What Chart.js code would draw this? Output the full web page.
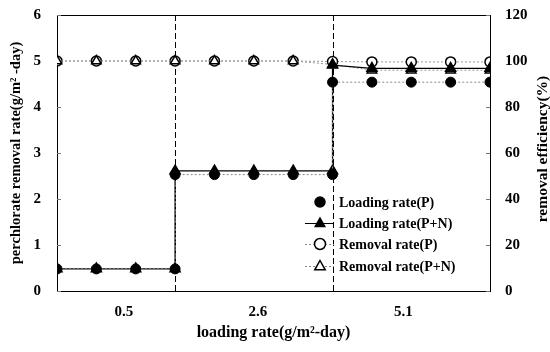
<!DOCTYPE html>
<html>
<head>
<meta charset="utf-8">
<script src="https://cdn.jsdelivr.net/npm/chart.js@4/dist/chart.umd.min.js"></script>
<style>
    html, body { margin: 0; padding: 0; background: #fff; }
    #wrap { width: 550px; height: 352px; position: relative; }
</style>
</head>
<body>
<div id="wrap"><canvas id="grafico"></canvas></div>
<script>
// Dados
const grupos = ['0.5', '2.6', '5.1'];
const posGrupos = [1.7, 5.1, 8.8];
const xLoading = [0, 1, 2, 3, 3, 4, 5, 6, 7, 7, 8, 9, 10, 11];
const loadingP = [0.48, 0.48, 0.48, 0.48, 2.53, 2.53, 2.53, 2.53, 2.53, 4.54, 4.54, 4.54, 4.54, 4.54];
const loadingPN = [0.48, 0.48, 0.48, 0.48, 2.61, 2.61, 2.61, 2.61, 2.61, 4.91, 4.84, 4.84, 4.84, 4.84];
const xRemoval = [0, 1, 2, 3, 4, 5, 6, 7, 8, 9, 10, 11];
const removalP = [100, 100, 100, 100, 100, 100, 100, 99.8, 99.6, 99.6, 99.6, 99.6];
const removalPN = [100, 100, 100, 100, 100, 100, 100, 98.5, 96, 96, 96, 96];
const mudancas = [3, 7];

const legendaItens = ['Loading rate(P)', 'Loading rate(P+N)', 'Removal rate(P)', 'Removal rate(P+N)'];
const fonte = '"Liberation Serif", "Times New Roman", serif';

function pares(xs, ys) {
    return xs.map((x, i) => ({ x: x, y: ys[i] }));
}

// desenha um marcador simples
function marcador(ctx, tipo, x, y, r, cheio) {
    ctx.beginPath();
    if (tipo === 'circle') {
        ctx.arc(x, y, r, 0, Math.PI * 2);
    } else {
        ctx.moveTo(x, y - r);
        ctx.lineTo(x + r * 0.95, y + r * 0.7);
        ctx.lineTo(x - r * 0.95, y + r * 0.7);
        ctx.closePath();
    }
    ctx.fillStyle = cheio ? '#000' : '#fff';
    ctx.fill();
    ctx.lineWidth = 1.5;
    ctx.strokeStyle = '#000';
    ctx.stroke();
}

// sem folga extra para os rótulos nas pontas
function semFolga(scale, largura, altura) {
    if (largura) scale.width = largura;
    if (altura) scale.height = altura;
    scale.paddingTop = 0;
    scale.paddingBottom = 0;
    scale.paddingLeft = 0;
    scale.paddingRight = 0;
}

// Moldura, linhas tracejadas e marcas internas
const molduraPlugin = {
    id: 'moldura',
    beforeDatasetsDraw(chart) {
        const { ctx, chartArea: a, scales } = chart;
        ctx.save();
        ctx.strokeStyle = '#000';
        ctx.lineWidth = 1;
        ctx.strokeRect(a.left + 0.5, a.top + 0.5, a.right - a.left, a.bottom - a.top);

        // marcas internas
        ctx.strokeStyle = '#777';
        scales.y.ticks.forEach(t => {
            const py = Math.round(scales.y.getPixelForValue(t.value)) + 0.5;
            ctx.beginPath();
            ctx.moveTo(a.left, py);
            ctx.lineTo(a.left + 4, py);
            ctx.stroke();
        });
        scales.y1.ticks.forEach(t => {
            const py = Math.round(scales.y1.getPixelForValue(t.value)) + 0.5;
            ctx.beginPath();
            ctx.moveTo(a.right - 4, py);
            ctx.lineTo(a.right, py);
            ctx.stroke();
        });

        // linhas de mudança de carga
        ctx.strokeStyle = '#000';
        ctx.setLineDash([6, 3]);
        mudancas.forEach(v => {
            const px = Math.round(scales.x.getPixelForValue(v)) + 0.5;
            ctx.beginPath();
            ctx.moveTo(px, a.top);
            ctx.lineTo(px, a.bottom);
            ctx.stroke();
        });
        ctx.restore();
    },
    afterDraw(chart) {
        const { ctx } = chart;
        ctx.save();
        // título do eixo direito (de baixo para cima)
        ctx.translate(543, 149);
        ctx.rotate(-Math.PI / 2);
        ctx.font = 'bold 15.5px ' + fonte;
        ctx.fillStyle = '#000';
        ctx.textAlign = 'center';
        ctx.textBaseline = 'middle';
        ctx.fillText('removal efficiency(%)', 0, 0);
        ctx.restore();

        // legenda
        ctx.save();
        const x0 = 305, x1 = 334, xm = 320, xt = 339;
        const linhas = [202, 223, 244, 266];
        ctx.font = 'bold 14px ' + fonte;
        ctx.textBaseline = 'middle';
        ctx.fillStyle = '#000';
        legendaItens.forEach((txt, i) => {
            const y = linhas[i];
            if (i > 0) {
                ctx.beginPath();
                ctx.strokeStyle = i === 1 ? '#000' : '#888';
                ctx.lineWidth = 1;
                ctx.setLineDash(i === 1 ? [] : [2, 2]);
                ctx.moveTo(x0, y + 0.5);
                ctx.lineTo(x1, y + 0.5);
                ctx.stroke();
                ctx.setLineDash([]);
            }
            const tipo = (i % 2 === 0) ? 'circle' : 'triangle';
            marcador(ctx, tipo, xm, y, i < 2 ? 5 : 5.5, i < 2);
            ctx.fillStyle = '#000';
            ctx.fillText(txt, xt, y + 1);
        });
        ctx.restore();
    }
};

function criarGrafico() {
    const ctx = document.getElementById('grafico').getContext('2d');

    new Chart(ctx, {
        type: 'line',
        data: {
            datasets: [
                {
                    label: legendaItens[0],
                    data: pares(xLoading, loadingP),
                    yAxisID: 'y',
                    borderColor: '#888',
                    borderWidth: 1,
                    borderDash: [2, 2],
                    pointStyle: 'circle',
                    pointRadius: 5,
                    pointBackgroundColor: '#000',
                    pointBorderColor: '#000',
                    order: 0
                },
                {
                    label: legendaItens[1],
                    data: pares(xLoading, loadingPN),
                    yAxisID: 'y',
                    borderColor: '#000',
                    borderWidth: 1.3,
                    pointStyle: 'triangle',
                    pointRadius: 6,
                    pointBackgroundColor: '#000',
                    pointBorderColor: '#000',
                    order: 1
                },
                {
                    label: legendaItens[2],
                    data: pares(xRemoval, removalP),
                    yAxisID: 'y1',
                    borderColor: '#999',
                    borderWidth: 1,
                    borderDash: [2, 2],
                    pointStyle: 'circle',
                    pointRadius: 5,
                    pointBorderWidth: 1.5,
                    pointBackgroundColor: '#fff',
                    pointBorderColor: '#000',
                    order: 3
                },
                {
                    label: legendaItens[3],
                    data: pares(xRemoval, removalPN),
                    yAxisID: 'y1',
                    borderColor: '#999',
                    borderWidth: 1,
                    borderDash: [2, 2],
                    pointStyle: 'triangle',
                    pointRadius: 5.5,
                    pointBorderWidth: 1.5,
                    pointBackgroundColor: '#fff',
                    pointBorderColor: '#000',
                    order: 2
                }
            ]
        },
        options: {
            responsive: true,
            maintainAspectRatio: false,
            animation: false,
            layout: { padding: { top: 15 } },
            plugins: {
                legend: { display: false },
                tooltip: { enabled: false }
            },
            scales: {
                x: {
                    type: 'linear',
                    min: 0,
                    max: 11,
                    grid: { display: false },
                    border: { display: false },
                    afterBuildTicks: (scale) => {
                        scale.ticks = posGrupos.map(v => ({ value: v }));
                    },
                    afterFit: (scale) => semFolga(scale, 0, 61),
                    ticks: {
                        color: '#000',
                        padding: 4,
                        maxRotation: 0,
                        font: { family: fonte, size: 15, weight: 'bold' },
                        callback: (v, i) => grupos[i]
                    },
                    title: {
                        display: true,
                        text: 'loading rate(g/m²-day)',
                        color: '#000',
                        padding: { bottom: 10 },
                        font: { family: fonte, size: 16, weight: 'bold' }
                    }
                },
                y: {
                    position: 'left',
                    min: 0,
                    max: 6,
                    grid: { display: false, drawTicks: false },
                    border: { display: false },
                    afterFit: (scale) => semFolga(scale, 57, 0),
                    ticks: {
                        stepSize: 1,
                        color: '#000',
                        padding: 16,
                        font: { family: fonte, size: 15, weight: 'bold' }
                    },
                    title: {
                        display: true,
                        text: 'perchlorate removal rate(g/m² -day)',
                        color: '#000',
                        padding: { top: 8 },
                        font: { family: fonte, size: 14.5, weight: 'bold' }
                    }
                },
                y1: {
                    position: 'right',
                    min: 0,
                    max: 120,
                    grid: { display: false, drawTicks: false },
                    border: { display: false },
                    afterFit: (scale) => semFolga(scale, 60, 0),
                    ticks: {
                        stepSize: 20,
                        color: '#000',
                        padding: 15,
                        font: { family: fonte, size: 15, weight: 'bold' }
                    }
                }
            }
        },
        plugins: [molduraPlugin]
    });
}

document.addEventListener('DOMContentLoaded', () => {
    criarGrafico();
});
</script>
</body>
</html>
